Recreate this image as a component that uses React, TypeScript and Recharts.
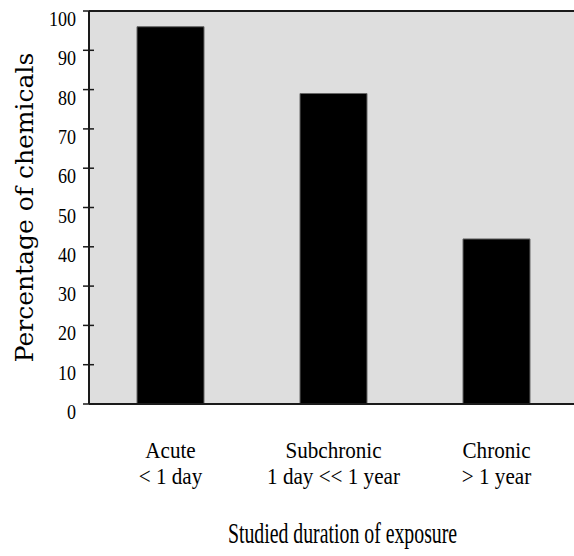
import React from "react";
import { BarChart, Bar, XAxis, YAxis, CartesianGrid, ReferenceLine, Label } from "recharts";

const categories = ["Acute", "Subchronic", "Chronic"];
const durations = ["< 1 day", "1 day << 1 year", "> 1 year"];
const percentages = [96, 79, 42];
const yTicks = [0, 10, 20, 30, 40, 50, 60, 70, 80, 90, 100];
const xTitle = "Studied duration of exposure";
const yTitle = "Percentage of chemicals";

const data = categories.map((c, i) => ({ name: c, duration: durations[i], value: percentages[i] }));

const SERIF = "'Times New Roman', 'Liberation Serif', Tinos, 'DejaVu Serif', 'Noto Serif', serif";
const AXIS = "#1a1a1a";

function CondensedText({ x, y, sx, size, anchor, children, family }: any) {
  return (
    <g transform={`translate(${x},${y}) scale(${sx},1)`}>
      <text
        x={0}
        y={0}
        textAnchor={anchor}
        fontFamily={family || SERIF}
        style={{ fontFamily: family || SERIF, fontSize: size, fill: "#000" }}
      >
        {children}
      </text>
    </g>
  );
}

function YTick(props: any) {
  const { x, y, payload } = props;
  return (
    <g>
      <line x1={x - 6} x2={x + 5} y1={y} y2={y} stroke={AXIS} strokeWidth={1.5} />
      <CondensedText x={x - 13} y={y + 15} sx={0.86} size={21} anchor="end">
        {String(payload.value)}
      </CondensedText>
    </g>
  );
}

function XTick(props: any) {
  const { x, y, payload, index } = props;
  const d = data[index] || data.find((r) => r.name === payload.value);
  return (
    <g>
      <CondensedText x={x} y={y + 54} sx={0.88} size={24} anchor="middle">
        {payload.value}
      </CondensedText>
      <CondensedText x={x} y={y + 80} sx={0.88} size={24} anchor="middle">
        {d ? d.duration : ""}
      </CondensedText>
    </g>
  );
}

function XTitle(props: any) {
  const vb = props.viewBox || {};
  return (
    <CondensedText x={vb.x + vb.width / 2 + 9} y={vb.y + 139} sx={0.66} size={30} anchor="middle">
      {xTitle}
    </CondensedText>
  );
}

function YTitle(props: any) {
  const vb = props.viewBox || {};
  const cx = vb.x + 33;
  const cy = vb.y + vb.height / 2;
  const fam = "'DejaVu Serif', 'Liberation Serif', 'Times New Roman', serif";
  return (
    <text
      x={cx}
      y={cy}
      transform={`rotate(-90, ${cx}, ${cy})`}
      textAnchor="middle"
      fontFamily={fam}
      style={{ fontFamily: fam, fontSize: 25, fill: "#000" }}
    >
      {yTitle}
    </text>
  );
}

export default function App() {
  return (
    <div style={{ position: "absolute", left: 0, top: 0, width: 574, height: 556, overflow: "hidden", background: "#fff" }}>
      <BarChart width={578} height={556} data={data} margin={{ top: 11, right: 0, bottom: 0, left: 0 }}>
        <CartesianGrid horizontal={false} vertical={false} fill="#dedede" fillOpacity={1} stroke="none" />
        <XAxis
          dataKey="name"
          interval={0}
          height={152}
          tickLine={false}
          tickSize={0}
          tickMargin={0}
          axisLine={{ stroke: AXIS, strokeWidth: 2 }}
          tick={<XTick />}
        >
          <Label content={<XTitle />} />
        </XAxis>
        <YAxis
          type="number"
          domain={[0, 100]}
          ticks={yTicks}
          interval={0}
          width={89}
          tickLine={false}
          tickSize={0}
          tickMargin={0}
          axisLine={{ stroke: AXIS, strokeWidth: 2 }}
          tick={<YTick />}
        >
          <Label content={<YTitle />} />
        </YAxis>
        <ReferenceLine y={100} stroke={AXIS} strokeWidth={2} />
        <Bar dataKey="value" fill="#000" stroke="#666" strokeWidth={1} barSize={67} isAnimationActive={false} />
      </BarChart>
    </div>
  );
}
